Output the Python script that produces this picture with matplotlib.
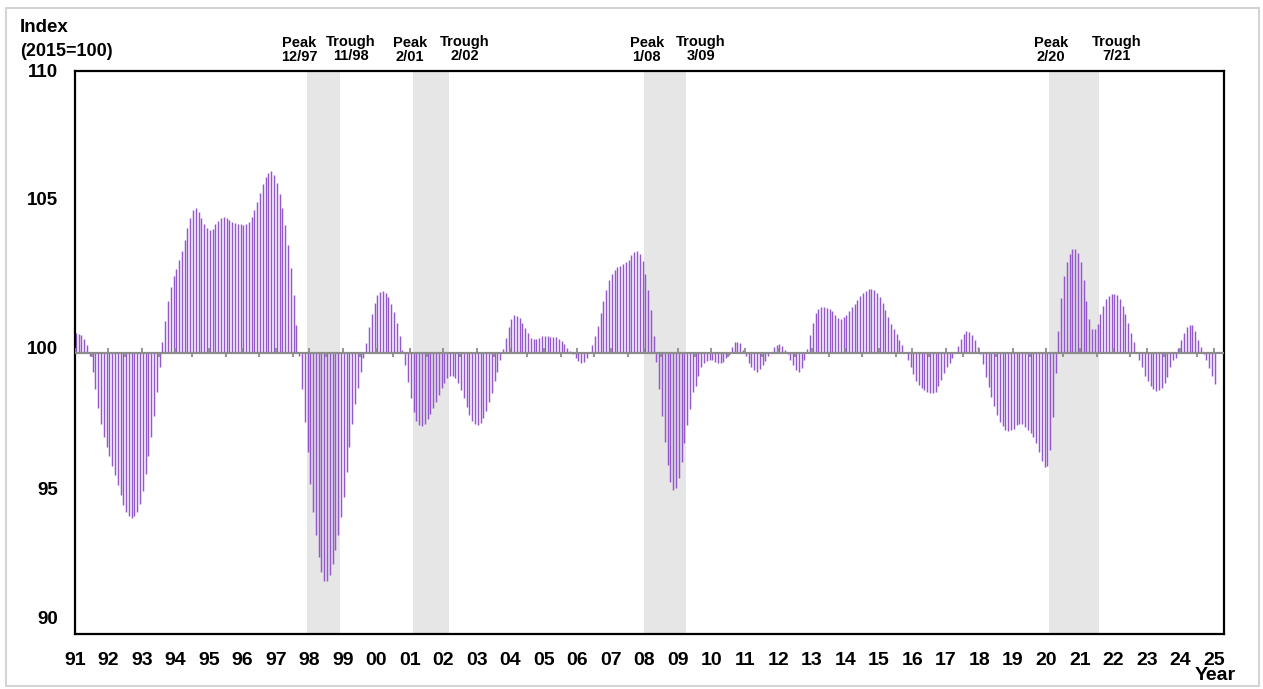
import numpy as np
import matplotlib
matplotlib.use("Agg")
import matplotlib.pyplot as plt
from matplotlib.patches import Rectangle
from matplotlib.transforms import blended_transform_factory

plt.rcParams['font.family'] = ['Liberation Sans', 'DejaVu Sans']

# monthly composite index (2015=100), Jan 1991 .. Jan 2025
cli_1991_1999 = [
    100.69, 100.65, 100.62, 100.49, 100.26, 99.86, 99.32, 98.69, 98.02, 97.45, 97.01, 96.65,
    96.32, 95.97, 95.64, 95.31, 94.93, 94.60, 94.33, 94.18, 94.12, 94.18, 94.33, 94.63,
    95.08, 95.67, 96.32, 97.01, 97.75, 98.59, 99.50, 100.36, 101.13, 101.84, 102.33, 102.70,
    102.97, 103.30, 103.60, 104.00, 104.41, 104.79, 105.05, 105.12, 104.98, 104.79, 104.55, 104.41,
    104.35, 104.37, 104.55, 104.67, 104.79, 104.81, 104.79, 104.72, 104.65, 104.61, 104.58, 104.55,
    104.52, 104.55, 104.65, 104.81, 105.05, 105.34, 105.68, 105.98, 106.22, 106.36, 106.43, 106.31,
    106.02, 105.62, 105.12, 104.52, 103.81, 103.01, 102.06, 100.99, 99.86, 98.69, 97.54, 96.45,
    95.34, 94.33, 93.50, 92.73, 92.19, 91.90, 91.90, 92.10, 92.47, 92.97, 93.50, 94.15,
    94.87, 95.76, 96.65, 97.45, 98.16, 98.75, 99.30, 99.80, 100.33, 100.89, 101.37, 101.76,
]
cli_2000_2009 = [
    102.03, 102.15, 102.20, 102.13, 101.96, 101.72, 101.43, 101.05, 100.59, 100.10, 99.56, 98.94,
    98.37, 97.90, 97.56, 97.42, 97.40, 97.47, 97.62, 97.80, 98.02, 98.23, 98.49, 98.73,
    98.91, 99.08, 99.18, 99.17, 99.08, 98.91, 98.67, 98.37, 98.07, 97.78, 97.56, 97.47,
    97.42, 97.49, 97.66, 97.92, 98.23, 98.55, 98.97, 99.32, 99.74, 100.12, 100.51, 100.89,
    101.20, 101.32, 101.31, 101.22, 101.05, 100.87, 100.69, 100.53, 100.48, 100.49, 100.51, 100.58,
    100.59, 100.58, 100.56, 100.56, 100.55, 100.49, 100.42, 100.31, 100.15, 100.05, 99.94, 99.82,
    99.70, 99.63, 99.68, 99.80, 99.98, 100.26, 100.59, 100.95, 101.40, 101.84, 102.23, 102.57,
    102.79, 102.94, 103.04, 103.07, 103.13, 103.20, 103.29, 103.47, 103.57, 103.60, 103.51, 103.24,
    102.79, 102.23, 101.50, 100.58, 99.68, 98.69, 97.75, 96.83, 96.02, 95.40, 95.13, 95.19,
    95.54, 96.11, 96.79, 97.42, 97.99, 98.61, 98.82, 99.16, 99.47, 99.63, 99.70, 99.74,
]
cli_2010_2019 = [
    99.74, 99.68, 99.64, 99.61, 99.68, 99.82, 99.92, 100.19, 100.37, 100.39, 100.32, 100.10,
    99.86, 99.63, 99.47, 99.37, 99.32, 99.41, 99.56, 99.70, 99.86, 100.02, 100.18, 100.26,
    100.30, 100.23, 100.10, 99.95, 99.74, 99.54, 99.37, 99.32, 99.44, 99.74, 100.13, 100.63,
    101.06, 101.40, 101.56, 101.62, 101.62, 101.58, 101.56, 101.46, 101.32, 101.24, 101.19, 101.26,
    101.34, 101.46, 101.60, 101.73, 101.88, 102.01, 102.13, 102.20, 102.26, 102.26, 102.22, 102.10,
    101.96, 101.76, 101.50, 101.25, 101.03, 100.83, 100.65, 100.46, 100.26, 99.98, 99.74, 99.47,
    99.23, 98.99, 98.85, 98.75, 98.67, 98.61, 98.55, 98.55, 98.61, 98.82, 99.03, 99.26,
    99.47, 99.64, 99.80, 99.98, 100.23, 100.49, 100.67, 100.77, 100.72, 100.63, 100.46, 100.21,
    99.94, 99.58, 99.14, 98.79, 98.43, 98.10, 97.78, 97.54, 97.39, 97.24, 97.22, 97.24,
    97.30, 97.42, 97.45, 97.45, 97.36, 97.24, 97.15, 97.01, 96.79, 96.47, 96.14, 95.94,
]
cli_2020_2025 = [
    95.96, 96.53, 97.72, 99.26, 100.75, 101.94, 102.73, 103.21, 103.51, 103.66, 103.68, 103.54,
    103.21, 102.57, 101.84, 101.20, 100.84, 100.84, 101.03, 101.37, 101.66, 101.90, 102.00, 102.08,
    102.08, 102.06, 101.90, 101.66, 101.37, 101.05, 100.71, 100.37, 99.98, 99.74, 99.48, 99.18,
    98.97, 98.82, 98.70, 98.65, 98.66, 98.75, 98.91, 99.14, 99.48, 99.74, 99.82, 100.15,
    100.43, 100.69, 100.89, 100.99, 100.96, 100.77, 100.45, 100.18, 99.94, 99.74, 99.44, 99.17,
    98.87,
]

# recessions: (peak, trough) as (year, month)
peaks = [(1997, 12), (2001, 2), (2008, 1), (2020, 2)]
troughs = [(1998, 11), (2002, 2), (2009, 3), (2021, 7)]

years = list(range(1991, 2026))
yticks = [90, 95, 100, 105, 110]

values = np.array(cli_1991_1999 + cli_2000_2009 + cli_2010_2019 + cli_2020_2025)
months = 1991 + (np.arange(len(values)) + 0.3) / 12

fig = plt.figure(figsize=(12.63, 6.89), dpi=100)
ax = fig.add_axes([75 / 1263, 1 - 634 / 689, 1149 / 1263, 563 / 689])

# recession shading
for (py, pm), (ty, tm) in zip(peaks, troughs):
    ax.axvspan(py + (pm - 1) / 12, ty + tm / 12, color='#e6e6e6', lw=0, zorder=0)

ax.vlines(months, 100, values, color='#9457cc', lw=1.05, zorder=2)

# baseline with small ticks (years above, half years below)
ax.axhline(100, color='#8c8c8c', lw=1.6, zorder=3)
ax.vlines(years, 100, 100.16, color='#8c8c8c', lw=1.3, zorder=3)
ax.vlines(np.array(years[:-1]) + 0.5, 99.84, 100, color='#8c8c8c', lw=1.3, zorder=3)

ax.set_xlim(1991, 2025.30)
ax.set_ylim(90, 110)
ax.set_xticks(years)
ax.set_xticklabels([f"{y % 100:02d}" for y in years], fontsize=14, fontweight='bold')
ax.tick_params(axis='x', length=0, pad=13)
ax.set_yticks([])
for s in ax.spines.values():
    s.set_linewidth(1.6)
    s.set_color('black')

# y labels (placed as in the original chart)
ylab_pos = [90.5, 95.1, 100.09, 105.4, 109.96]
ytr = blended_transform_factory(fig.transFigure, ax.transData)
for v, p in zip(yticks, ylab_pos):
    ax.text(58 / 1263, p, str(v), transform=ytr, ha='right', va='center',
            fontsize=13.5, fontweight='bold', clip_on=False)

fig.text(20 / 1263, 1 - 28 / 689, "Index", fontsize=13.5, fontweight='bold', va='center')
fig.text(20 / 1263, 1 - 52 / 689, "(2015=100)", fontsize=13, fontweight='bold', va='center')
fig.text(1215 / 1263, 1 - 676 / 689, "Year", fontsize=14, fontweight='bold', ha='center', va='center')

# peak / trough labels
ttr = blended_transform_factory(ax.transData, fig.transFigure)
peak_x = [1997.69, 2001.0, 2008.07, 2020.13]
trough_x = [1999.24, 2002.64, 2009.69, 2022.10]
for (py, pm), (ty, tm), px, tx in zip(peaks, troughs, peak_x, trough_x):
    ax.text(px, 1 - 43 / 689, "Peak", transform=ttr, ha='center', va='center',
            fontsize=10.5, fontweight='bold')
    ax.text(px, 1 - 57 / 689, f"{pm}/{py % 100:02d}", transform=ttr, ha='center', va='center',
            fontsize=10.5, fontweight='bold')
    ax.text(tx, 1 - 42 / 689, "Trough", transform=ttr, ha='center', va='center',
            fontsize=10.5, fontweight='bold')
    ax.text(tx, 1 - 56 / 689, f"{tm}/{ty % 100:02d}", transform=ttr, ha='center', va='center',
            fontsize=10.5, fontweight='bold')

fig.patches.append(Rectangle((6 / 1263, 3 / 689), 1253 / 1263, 678 / 689, transform=fig.transFigure,
                             fill=False, edgecolor='#d4d4d4', lw=1.5))

fig.savefig("out.png", dpi=100)
